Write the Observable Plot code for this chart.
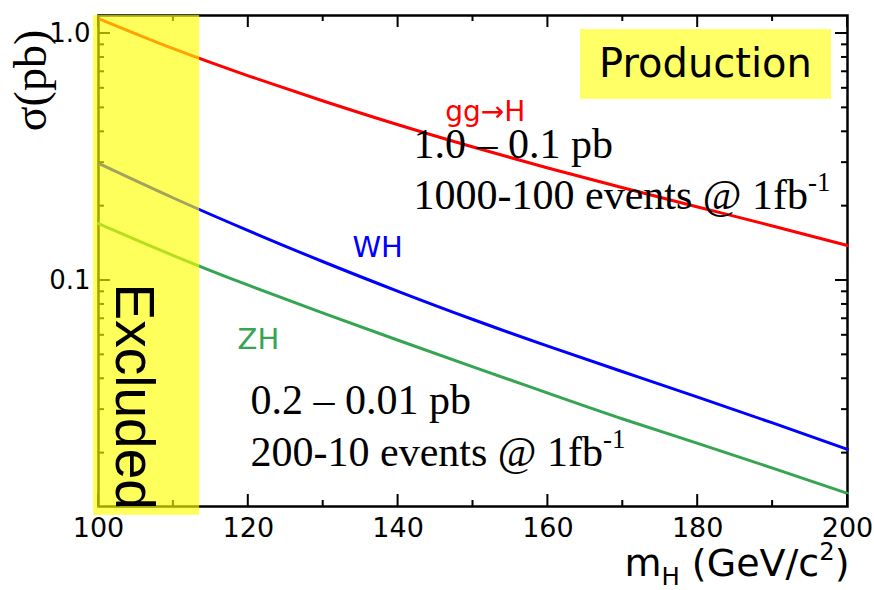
<!DOCTYPE html>
<html>
<head>
<meta charset="utf-8">
<script src="https://cdn.jsdelivr.net/npm/d3@7"></script>
<script src="https://cdn.jsdelivr.net/npm/@observablehq/plot@0.6"></script>
<style>
  html, body { margin: 0; padding: 0; background: #fff; }
  #chart svg { display: block; }
</style>
</head>
<body>
<div id="chart"></div>
<script>
// ---- data ----
const massGeV = [100, 110, 120, 130, 140, 150, 160, 170, 180, 190, 200];
const sigmaGGH = [1.150, 0.868, 0.674, 0.533, 0.427, 0.347, 0.2855, 0.2375, 0.1985, 0.1662, 0.1385];
const sigmaWH  = [0.298, 0.2158, 0.1592, 0.1191, 0.0904, 0.0695, 0.0542, 0.0427, 0.0337, 0.0265, 0.0207];
const sigmaZH  = [0.170, 0.1262, 0.0957, 0.0738, 0.0573, 0.0447, 0.0350, 0.0275, 0.0219, 0.0174, 0.01374];

const seriesNames  = ["gg→H", "WH", "ZH"];
const seriesColors = ["#ff0000", "#0000ff", "#35a551"];

const xMajorTicks = [100, 120, 140, 160, 180, 200];
const xMinorTicks = [110, 130, 150, 170, 190];
const yMajorTicks = [0.1, 1];
const yMinorTicks = [0.02, 0.03, 0.04, 0.05, 0.06, 0.07, 0.08, 0.09, 0.2, 0.3, 0.4, 0.5, 0.6, 0.7, 0.8, 0.9];

const xDomain = [100, 200];
const yDomain = [0.01216, 1.183];

const excludedRange = [99.35, 113.5];        // mH region marked "Excluded"
const excludedSigma = [0.0112, 1.183];
const productionBox = {x1: 164.35, x2: 197.86, y1: 0.541, y2: 1.038};

const labelGGH = {x: 146.3, y: 0.444, text: "gg→H"};
const labelWH  = {x: 133.9, y: 0.124, text: "WH"};
const labelZH  = {x: 118.56, y: 0.0526, text: "ZH"};
const noteLabels = [
  {x: 142.06, y: 0.312,  text: "1.0 – 0.1 pb"},
  {x: 142.06, y: 0.1956, text: "1000-100 events @ 1fb^-1"},
  {x: 120.3,  y: 0.0289, text: "0.2 – 0.01 pb"},
  {x: 120.3,  y: 0.0178, text: "200-10 events @ 1fb^-1"}
];
const excludedLabel = {x: 104.75, y: 0.0972, text: "Excluded"};
const productionLabel = {x: 181.04, y: 0.749, text: "Production"};
const xTitle = "m_H (GeV/c^2)";
const yTitle = "σ(pb)";

// ---- layout ----
const W = 874, H = 590, mL = 98, mR = 27, mT = 15, mB = 84;
const frameW = W - mL - mR, frameH = H - mT - mB;
const majorLen = 12, minorLen = 6, tickHalfWidth = 1;

// tick lengths expressed through the scales
const pxPerX = frameW / (xDomain[1] - xDomain[0]);
const pxPerDecade = frameH / Math.log10(yDomain[1] / yDomain[0]);
const xLen = len => len / pxPerX;
const yFac = len => Math.pow(10, len / pxPerDecade);

// ---- table for the line mark ----
const rows = [];
[sigmaGGH, sigmaWH, sigmaZH].forEach((vals, i) => {
  massGeV.forEach((m, j) => rows.push({m, s: vals[j], series: seriesNames[i]}));
});

// inward frame ticks drawn as thin filled rects
function xTicks(ticks, len) {
  const x1 = d => d - xLen(tickHalfWidth), x2 = d => d + xLen(tickHalfWidth);
  return [
    Plot.rect(ticks, {x1, x2, y1: () => yDomain[0], y2: () => yDomain[0] * yFac(len), fill: "#000"}),
    Plot.rect(ticks, {x1, x2, y1: () => yDomain[1] / yFac(len), y2: () => yDomain[1], fill: "#000"})
  ];
}
function yTicks(ticks, len) {
  const y1 = d => d / yFac(tickHalfWidth), y2 = d => d * yFac(tickHalfWidth);
  return [
    Plot.rect(ticks, {y1, y2, x1: () => xDomain[0], x2: () => xDomain[0] + xLen(len), fill: "#000"}),
    Plot.rect(ticks, {y1, y2, x1: () => xDomain[1] - xLen(len), x2: () => xDomain[1], fill: "#000"})
  ];
}

const chart = Plot.plot({
  width: W,
  height: H,
  marginLeft: mL,
  marginRight: mR,
  marginTop: mT,
  marginBottom: mB,
  style: {fontFamily: "'DejaVu Sans', sans-serif", background: "#fff", color: "#000"},
  x: {domain: xDomain},
  y: {type: "log", domain: yDomain},
  color: {domain: seriesNames, range: seriesColors},
  marks: [
    Plot.frame({stroke: "#000", strokeWidth: 2.5}),
    Plot.axisX({ticks: xMajorTicks, anchor: "bottom", tickSize: 0, tickPadding: 11, fontSize: 27, label: null, tickFormat: d => String(d)}),
    Plot.axisY({ticks: yMajorTicks, anchor: "left", tickSize: 0, tickPadding: 8, fontSize: 26, label: null, tickFormat: d => d.toFixed(1)}),
    Plot.line(rows, {x: "m", y: "s", z: "series", stroke: "series", strokeWidth: 3, curve: "natural"}),
    ...xTicks(xMajorTicks, majorLen),
    ...xTicks(xMinorTicks, minorLen),
    ...yTicks(yMajorTicks, majorLen),
    ...yTicks(yMinorTicks, minorLen),
    // excluded region (semi-transparent yellow)
    Plot.rect([excludedRange], {x1: d => d[0], x2: d => d[1], y1: () => excludedSigma[0], y2: () => excludedSigma[1], fill: "#ffff00", fillOpacity: 0.64}),
    // Production box
    Plot.rect([productionBox], {x1: "x1", x2: "x2", y1: "y1", y2: "y2", fill: "#ffff66"}),
    Plot.text([productionLabel], {x: "x", y: "y", text: "text", fontSize: 40, fontFamily: "'DejaVu Sans', sans-serif", textAnchor: "middle", lineAnchor: "middle", fill: "#000"}),
    Plot.text([excludedLabel], {x: "x", y: "y", text: "text", rotate: 90, fontSize: 55, fontFamily: "'Liberation Sans', sans-serif", textAnchor: "start", lineAnchor: "middle", fill: "#000"}),
    Plot.text([labelGGH], {x: "x", y: "y", text: "text", fill: seriesColors[0], fontSize: 28, textAnchor: "start", lineAnchor: "bottom"}),
    Plot.text([labelWH], {x: "x", y: "y", text: "text", fill: seriesColors[1], fontSize: 29, textAnchor: "start", lineAnchor: "bottom"}),
    Plot.text([labelZH], {x: "x", y: "y", text: "text", fill: seriesColors[2], fontSize: 29, textAnchor: "start", lineAnchor: "bottom"}),
    Plot.text(noteLabels, {x: "x", y: "y", text: "text", fontSize: 42, fontFamily: "'Liberation Serif', serif", textAnchor: "start", lineAnchor: "bottom", fill: "#000"}),
    Plot.text([xTitle], {frameAnchor: "bottom-right", dy: 69, dx: 2, text: d => d, fontSize: 38, textAnchor: "end", lineAnchor: "bottom", fill: "#000"}),
    Plot.text([yTitle], {frameAnchor: "top-left", dx: -53, dy: 65, rotate: -90, text: d => d, fontSize: 46, fontFamily: "'Liberation Serif', serif", textAnchor: "middle", lineAnchor: "bottom", fill: "#000"})
  ]
});

document.getElementById("chart").appendChild(chart);

// ---- superscripts / subscripts: "^x" and "_x" markup ----
d3.select(chart).selectAll("text").each(function () {
  const t = this.textContent;
  if (!/[\^_]/.test(t)) return;
  const fs = parseFloat(getComputedStyle(this).fontSize) || 30;
  const sel = d3.select(this);
  sel.text(null);
  const parts = t.split(/([\^_][^ )]+)/).filter(s => s.length);
  let shift = 0;
  for (const p of parts) {
    let target = 0, txt = p, small = false;
    if (p[0] === "^") { target = -0.42 * fs; txt = p.slice(1); small = true; }
    else if (p[0] === "_") { target = 0.25 * fs; txt = p.slice(1); small = true; }
    const ts = sel.append("tspan").attr("dy", target - shift).text(txt);
    if (small) ts.attr("font-size", 0.64 * fs);
    shift = target;
  }
});
</script>
</body>
</html>
